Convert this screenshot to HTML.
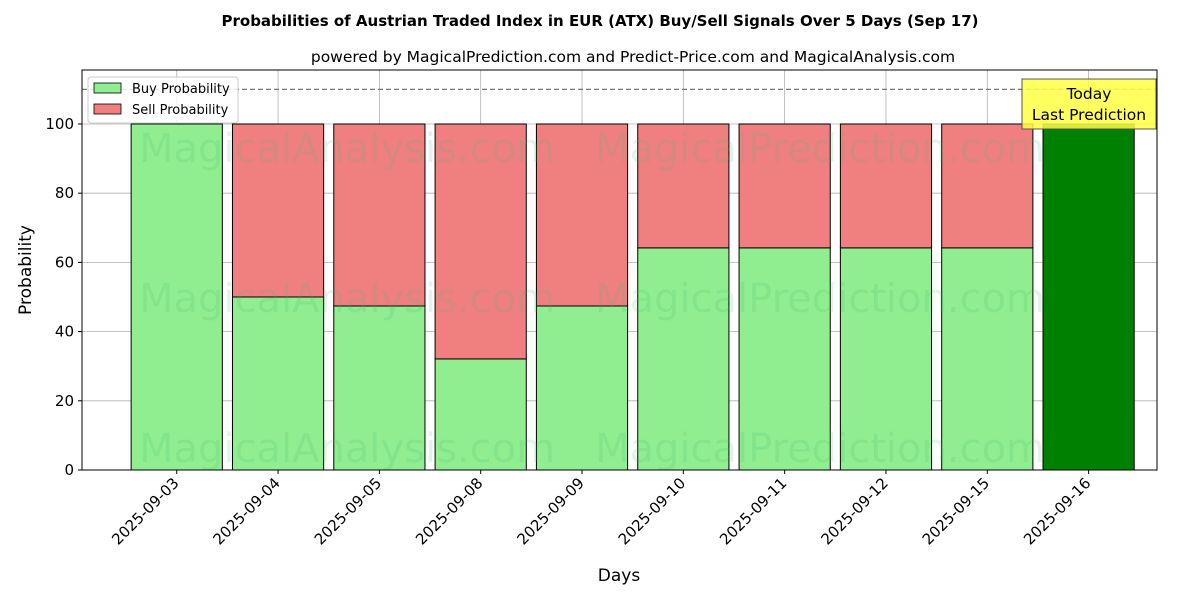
<!DOCTYPE html>
<html><head><meta charset="utf-8"><style>
body{margin:0;background:#fff;}
svg text{font-family:"DejaVu Sans","Liberation Sans",sans-serif;}
</style></head><body>
<svg id="chart" width="1200" height="600" xmlns="http://www.w3.org/2000/svg">
<text x="600" y="26" text-anchor="middle" font-size="15" font-weight="bold">Probabilities of Austrian Traded Index in EUR (ATX) Buy/Sell Signals Over 5 Days (Sep 17)</text>
<text x="633" y="62" text-anchor="middle" font-size="15.5">powered by MagicalPrediction.com and Predict-Price.com and MagicalAnalysis.com</text>
<g id="grid"></g>
<g id="bars"></g>
<g id="wm" fill="#3cb371" fill-opacity="0.15" font-size="40">
<text x="347" y="162" text-anchor="middle">MagicalAnalysis.com</text>
<text x="820" y="162" text-anchor="middle">MagicalPrediction.com</text>
<text x="347" y="312" text-anchor="middle">MagicalAnalysis.com</text>
<text x="820" y="312" text-anchor="middle">MagicalPrediction.com</text>
<text x="347" y="462" text-anchor="middle">MagicalAnalysis.com</text>
<text x="820" y="462" text-anchor="middle">MagicalPrediction.com</text>
</g>
<line x1="82" x2="1157" y1="89.4" y2="89.4" stroke="#777" stroke-dasharray="5,3" stroke-width="1.2"/>
<rect x="82" y="70" width="1075" height="400" fill="none" stroke="#000" stroke-width="1"/>
<g id="axes"></g>
<text x="619" y="581" text-anchor="middle" font-size="17">Days</text>
<text transform="translate(31,270) rotate(-90)" text-anchor="middle" font-size="17">Probability</text>
<g>
<rect x="88" y="77" width="150" height="46" fill="#fff" fill-opacity="0.8" stroke="#ccc" rx="3"/>
<rect x="94" y="83" width="27" height="10" fill="#90ee90" stroke="#000" stroke-width="0.8"/>
<text x="132" y="93" font-size="13">Buy Probability</text>
<rect x="94" y="104" width="27" height="10" fill="#f08080" stroke="#000" stroke-width="0.8"/>
<text x="132" y="114" font-size="13">Sell Probability</text>
</g>
<g>
<rect x="1022" y="79" width="134" height="50" fill="#ffff44" fill-opacity="0.85" stroke="#555"/>
<text x="1089" y="99" text-anchor="middle" font-size="15.5">Today</text>
<text x="1089" y="120" text-anchor="middle" font-size="15.5">Last Prediction</text>
</g>
</svg>
<script>
const categories=["2025-09-03","2025-09-04","2025-09-05","2025-09-08","2025-09-09","2025-09-10","2025-09-11","2025-09-12","2025-09-15","2025-09-16"];
const buyValues=[100,50,47.4,32.1,47.4,64.2,64.2,64.2,64.2,100];
const sellValues=[0,50,52.6,67.9,52.6,35.8,35.8,35.8,35.8,0];
const yTicks=[0,20,40,60,80,100];
const NS="http://www.w3.org/2000/svg";
const X0=82,X1=1157,Y0=70,Y1=470;
const xMin=-0.935,xMax=9.675,yMin=0,yMax=115.6;
const xs=v=>X0+(v-xMin)/(xMax-xMin)*(X1-X0);
const ys=v=>Y1-(v-yMin)/(yMax-yMin)*(Y1-Y0);
function mk(t,a,p){const e=document.createElementNS(NS,t);for(const k in a)e.setAttribute(k,a[k]);p.appendChild(e);return e;}
const grid=document.getElementById('grid'),bars=document.getElementById('bars'),axes=document.getElementById('axes');
yTicks.forEach(t=>{
 const l=mk('line',{x1:X0,x2:X1,y1:ys(t),y2:ys(t),stroke:'#b0b0b0','stroke-width':0.8},grid);
 
 
 const tk=mk('line',{x1:X0-4,x2:X0,y1:ys(t),y2:ys(t),stroke:'#000'},axes);
 
 
 const tx=mk('text',{x:X0-8,y:ys(t)+5,'text-anchor':'end','font-size':15},axes);
 tx.textContent=t;
 
 
});
categories.forEach((c,i)=>{
 const cx=xs(i);
 const g=mk('line',{x1:cx,x2:cx,y1:Y0,y2:Y1,stroke:'#b0b0b0','stroke-width':0.8},grid);
 
 
 const w=xs(0.45)-xs(-0.45);
 const last=i===categories.length-1;
 const b=mk('rect',{x:cx-w/2,y:ys(buyValues[i]),width:w,height:ys(0)-ys(buyValues[i]),fill:last?'#008000':'#90ee90',stroke:'#000','stroke-width':1},bars);
 
 
 if(sellValues[i]>0){
  const s=mk('rect',{x:cx-w/2,y:ys(buyValues[i]+sellValues[i]),width:w,height:ys(buyValues[i])-ys(buyValues[i]+sellValues[i]),fill:'#f08080',stroke:'#000','stroke-width':1},bars);
  
  
 }
 const tk=mk('line',{x1:cx,x2:cx,y1:Y1,y2:Y1+4,stroke:'#000'},axes);
 
 
 const tx=mk('text',{x:cx+3,y:Y1+14,'text-anchor':'end','font-size':15,transform:`rotate(-45 ${cx+3} ${Y1+14})`},axes);
 tx.textContent=c;
 
 
});
</script>
</body></html>
